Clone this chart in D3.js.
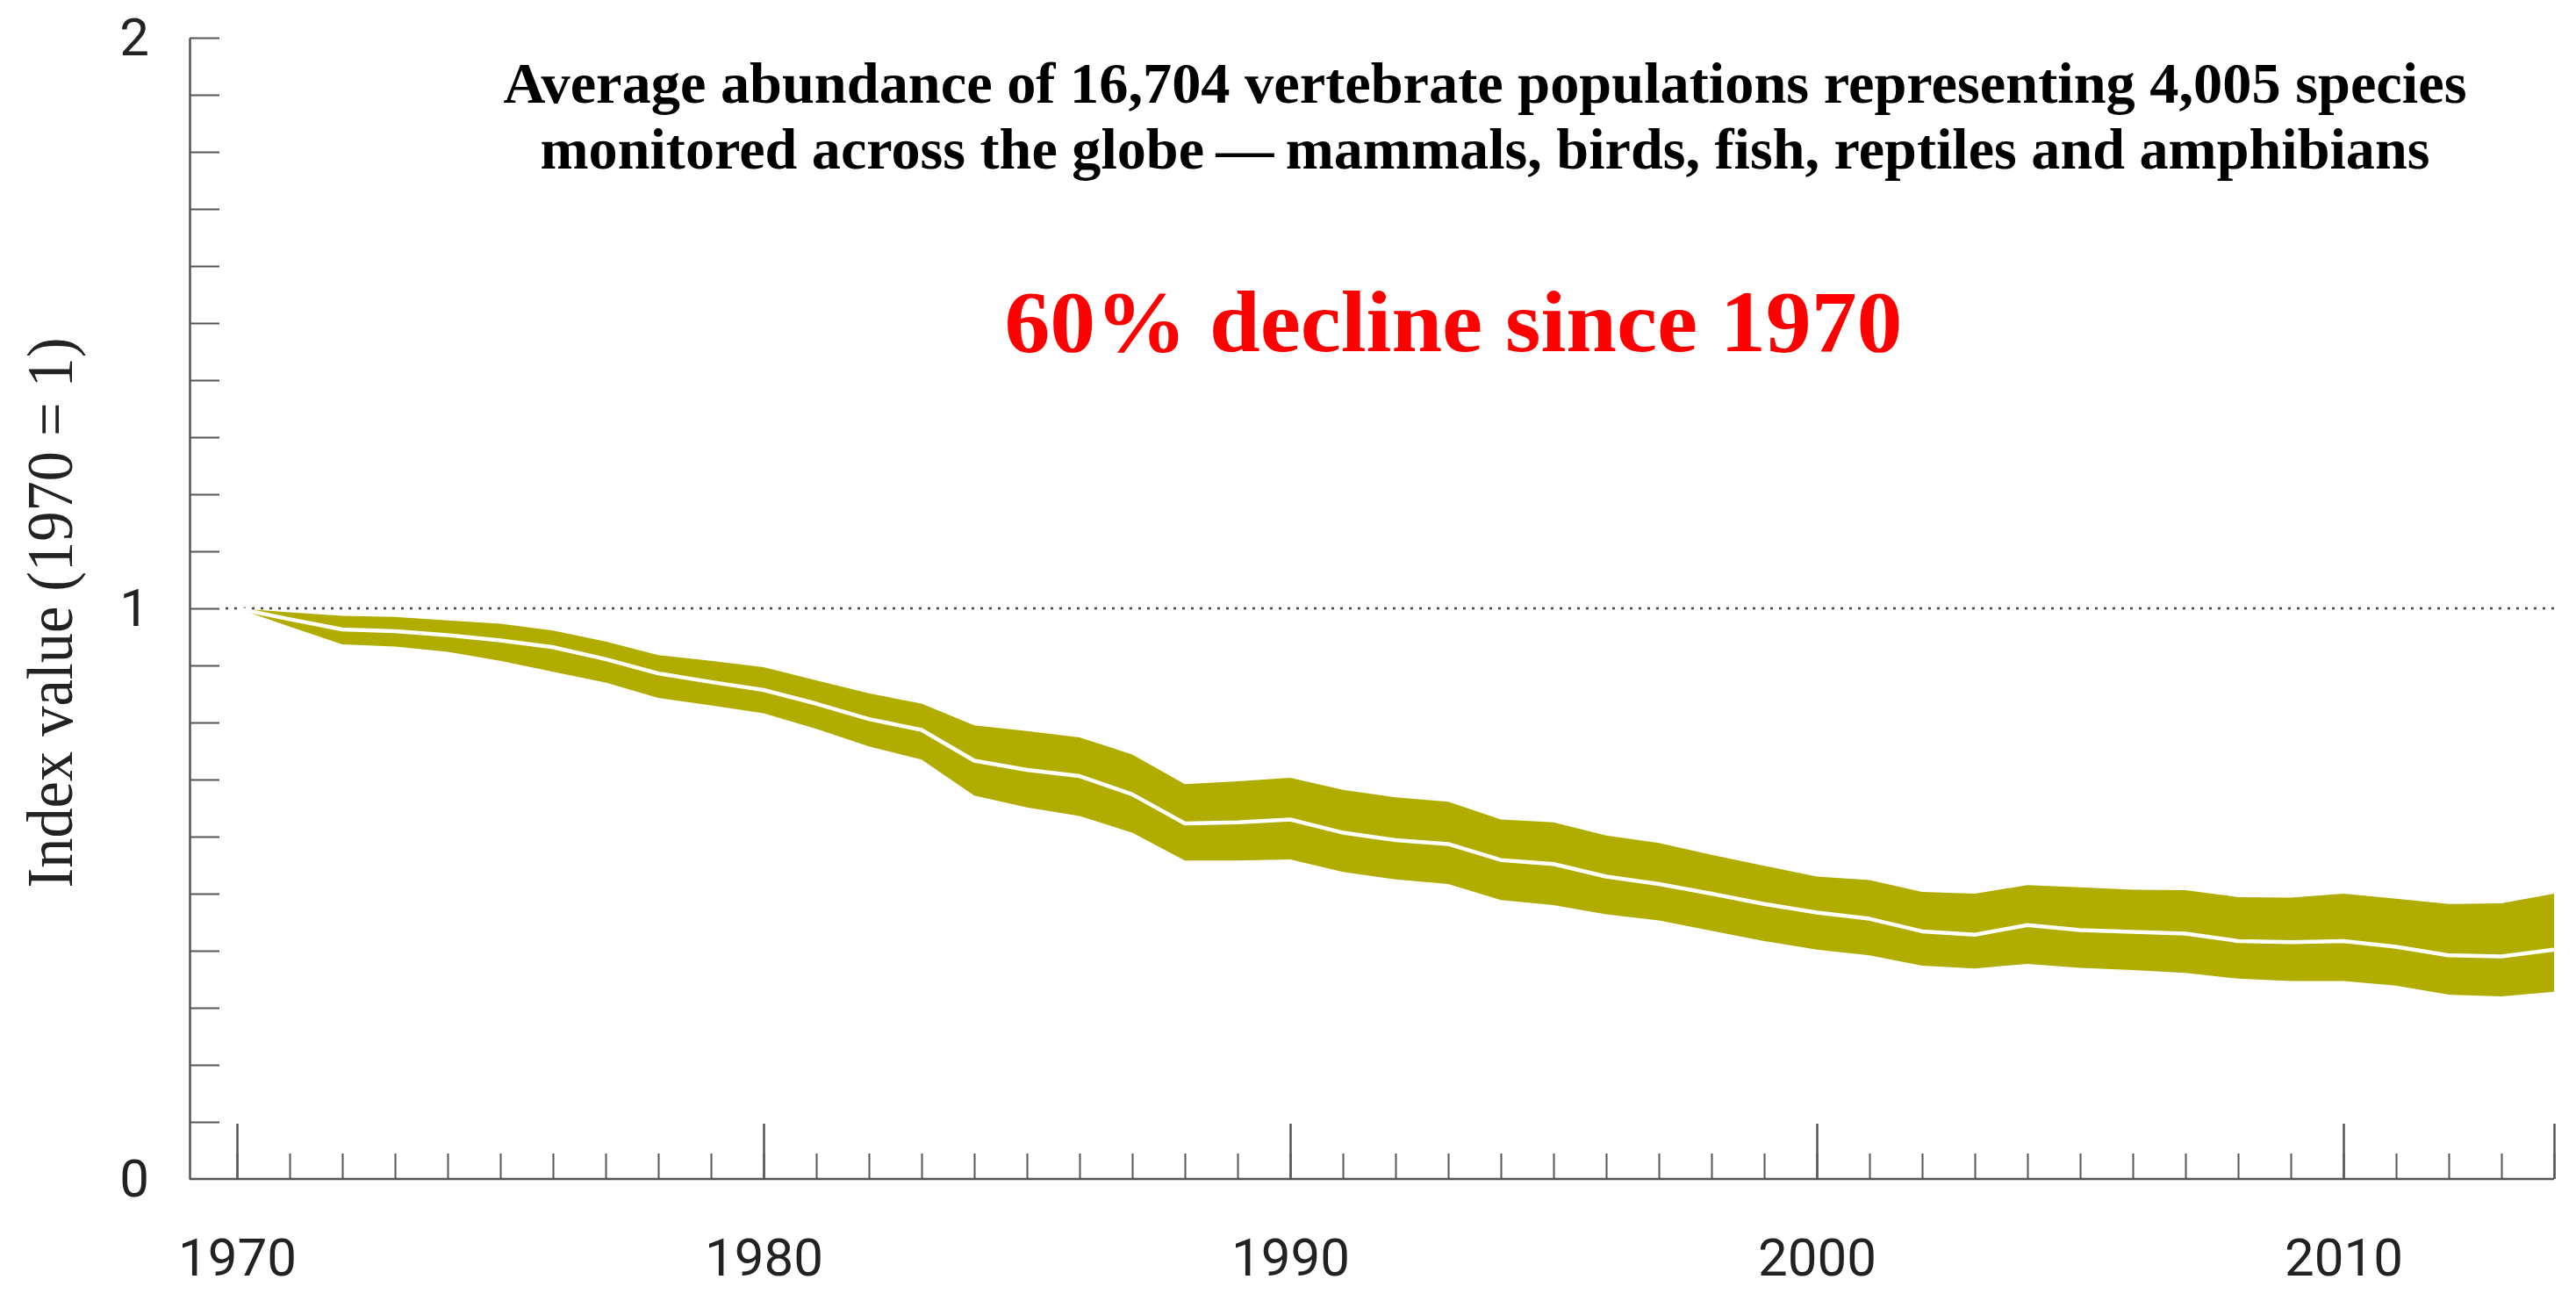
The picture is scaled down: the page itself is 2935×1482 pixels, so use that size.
<!DOCTYPE html>
<html>
<head>
<meta charset="utf-8">
<script src="https://cdn.jsdelivr.net/npm/d3@7"></script>
<style>
  body { margin: 0; background: #fff; }
  .tick-label { font-family: Roboto, "Liberation Sans", sans-serif; font-weight: 400; fill: #222; }
</style>
</head>
<body>
<svg id="chart"></svg>
<script>
// Living Planet Index, 1970 = 1
const years = d3.range(1970, 2015);
const indexValue = [1.000, 0.981, 0.963, 0.960, 0.953, 0.944, 0.932, 0.911, 0.886, 0.871,
                    0.857, 0.833, 0.806, 0.787, 0.733, 0.717, 0.706, 0.674, 0.623, 0.625,
                    0.630, 0.607, 0.594, 0.587, 0.559, 0.552, 0.530, 0.517, 0.500, 0.482,
                    0.467, 0.456, 0.434, 0.428, 0.445, 0.436, 0.433, 0.430, 0.417, 0.415,
                    0.417, 0.407, 0.392, 0.390, 0.402];
const upperBound = [1.000, 0.993, 0.987, 0.985, 0.979, 0.973, 0.961, 0.942, 0.918, 0.908,
                    0.897, 0.874, 0.851, 0.833, 0.795, 0.785, 0.774, 0.744, 0.692, 0.697,
                    0.703, 0.682, 0.669, 0.661, 0.630, 0.625, 0.602, 0.589, 0.568, 0.549,
                    0.530, 0.524, 0.503, 0.500, 0.515, 0.511, 0.507, 0.506, 0.494, 0.493,
                    0.500, 0.491, 0.482, 0.483, 0.500];
const lowerBound = [1.000, 0.968, 0.937, 0.933, 0.924, 0.908, 0.889, 0.870, 0.843, 0.830,
                    0.816, 0.789, 0.758, 0.735, 0.672, 0.651, 0.636, 0.607, 0.558, 0.558,
                    0.560, 0.538, 0.525, 0.517, 0.489, 0.480, 0.464, 0.453, 0.435, 0.417,
                    0.402, 0.392, 0.374, 0.369, 0.377, 0.370, 0.366, 0.361, 0.351, 0.347,
                    0.347, 0.339, 0.323, 0.320, 0.328];
const yLabelTicks = [0, 1, 2];
const xLabelTicks = [1970, 1980, 1990, 2000, 2010];
const xMajorTicks = [1970, 1980, 1990, 2000, 2010, 2014];
const titleLines = [
  "Average abundance of 16,704 vertebrate populations representing 4,005 species",
  "monitored across the globe\u2009\u2014\u2009mammals, birds, fish, reptiles and amphibians"
];
const headline = "60% decline since 1970";

const width = 2935, height = 1482;
const axisX = 216;
const axisColor = "#555";

const svg = d3.select("#chart")
  .attr("width", width)
  .attr("height", height);

svg.append("rect").attr("width", width).attr("height", height).attr("fill", "#fff");

const x = d3.scaleLinear().domain([1970, 2014]).range([270, 2910]);
const y = d3.scaleLinear().domain([0, 2]).range([1343, 43]);

const data = years.map((yr, i) => ({
  year: yr, value: indexValue[i], lo: lowerBound[i], hi: upperBound[i]
}));

// reference line at 1
svg.append("line")
  .attr("x1", x(1970) - 13)
  .attr("x2", x(2014))
  .attr("y1", y(1))
  .attr("y2", y(1))
  .attr("stroke", "#444")
  .attr("stroke-width", 2.5)
  .attr("stroke-dasharray", "3,7");

// confidence band
svg.append("path")
  .datum(data)
  .attr("fill", "#b1ad00")
  .attr("d", d3.area()
    .x(d => x(d.year))
    .y0(d => y(d.lo))
    .y1(d => y(d.hi)));

// index line
svg.append("path")
  .datum(data)
  .attr("fill", "none")
  .attr("stroke", "#fff")
  .attr("stroke-width", 4.5)
  .attr("stroke-linejoin", "round")
  .attr("d", d3.line()
    .x(d => x(d.year))
    .y(d => y(d.value)));

// y axis with inward ticks every 0.1
const yAxis = svg.append("g")
  .attr("transform", `translate(${axisX},0)`)
  .call(d3.axisRight(y)
    .tickValues(d3.range(1, 21).map(k => k / 10))
    .tickSize(34)
    .tickSizeOuter(0)
    .tickFormat(""));
yAxis.select(".domain").attr("stroke", axisColor).attr("stroke-width", 2.5);
yAxis.selectAll(".tick line").attr("stroke", axisColor).attr("stroke-width", 2);

const yLabels = svg.append("g")
  .attr("transform", `translate(${axisX},0)`)
  .call(d3.axisLeft(y).tickValues(yLabelTicks).tickSize(0).tickPadding(46).tickFormat(d3.format("d")));
yLabels.select(".domain").remove();
yLabels.selectAll("text").attr("class", "tick-label").attr("font-size", 60);

// x axis: yearly minor ticks and taller decade ticks, pointing up
const xMinor = svg.append("g")
  .attr("transform", `translate(0,${y(0)})`)
  .call(d3.axisTop(x).tickValues(years).tickSize(29).tickSizeOuter(0).tickFormat(""));
xMinor.select(".domain").remove();
xMinor.selectAll(".tick line").attr("stroke", axisColor).attr("stroke-width", 2);

const xMajor = svg.append("g")
  .attr("transform", `translate(0,${y(0)})`)
  .call(d3.axisTop(x).tickValues(xMajorTicks).tickSize(63).tickSizeOuter(0).tickFormat(""));
xMajor.select(".domain").remove();
xMajor.selectAll(".tick line").attr("stroke", axisColor).attr("stroke-width", 2.5);

svg.append("line")
  .attr("x1", axisX)
  .attr("x2", x(2014))
  .attr("y1", y(0))
  .attr("y2", y(0))
  .attr("stroke", axisColor)
  .attr("stroke-width", 2.5);

const xLabels = svg.append("g")
  .attr("transform", `translate(0,${y(0)})`)
  .call(d3.axisBottom(x).tickValues(xLabelTicks).tickSize(0).tickFormat(d3.format("d")));
xLabels.select(".domain").remove();
xLabels.selectAll("text")
  .attr("class", "tick-label")
  .attr("font-size", 60)
  .attr("y", 110)
  .attr("dy", 0);

// y axis title
svg.append("text")
  .attr("transform", `translate(82,${y(1) + 5}) rotate(-90)`)
  .attr("text-anchor", "middle")
  .attr("font-family", "'Liberation Serif', 'Times New Roman', serif")
  .attr("font-size", 74)
  .attr("fill", "#222")
  .attr("textLength", 627)
  .attr("lengthAdjust", "spacingAndGlyphs")
  .text("Index value (1970 = 1)");

// title
const titleWidths = [2237, 2153];
svg.selectAll(".title-line")
  .data(titleLines)
  .enter().append("text")
  .attr("class", "title-line")
  .attr("x", 1692)
  .attr("y", (d, i) => 117 + i * 75)
  .attr("text-anchor", "middle")
  .attr("font-family", "'Liberation Serif', 'Times New Roman', serif")
  .attr("font-weight", "bold")
  .attr("font-size", 65)
  .attr("fill", "#000")
  .attr("textLength", (d, i) => titleWidths[i])
  .attr("lengthAdjust", "spacingAndGlyphs")
  .text(d => d);

svg.append("text")
  .attr("x", 1656)
  .attr("y", 400)
  .attr("text-anchor", "middle")
  .attr("font-family", "'Liberation Serif', 'Times New Roman', serif")
  .attr("font-weight", "bold")
  .attr("font-size", 99)
  .attr("fill", "#ff0000")
  .attr("textLength", 1023)
  .attr("lengthAdjust", "spacingAndGlyphs")
  .text(headline);
</script>
</body>
</html>
